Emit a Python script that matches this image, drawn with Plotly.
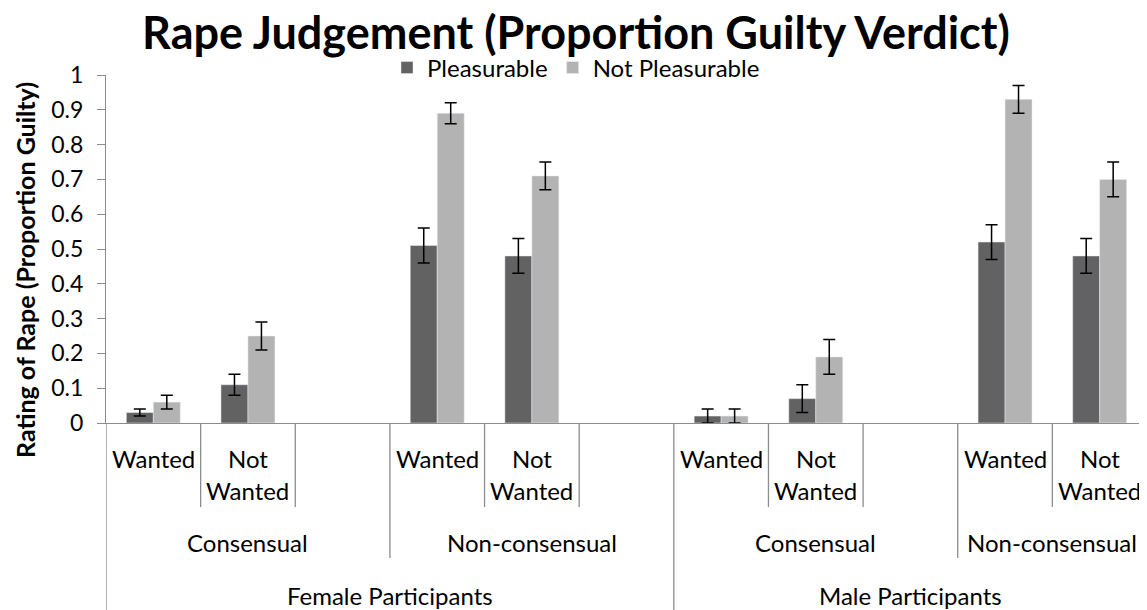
import plotly.graph_objects as go

# ---- data ----
participants = ["Female Participants"] * 6 + ["Male Participants"] * 5
consent = (["Consensual"] * 3 + ["Non-consensual"] * 3 +
           ["Consensual"] * 3 + ["Non-consensual"] * 2)
want = ["Wanted", "Not Wanted", "",
        "Wanted", "Not Wanted", "",
        "Wanted", "Not Wanted", "",
        "Wanted", "Not Wanted"]

pleasurable = [0.03, 0.11, None, 0.51, 0.48, None, 0.02, 0.07, None, 0.52, 0.48]
pleasurable_err = [0.01, 0.03, None, 0.05, 0.05, None, 0.02, 0.04, None, 0.05, 0.05]
not_pleasurable = [0.06, 0.25, None, 0.89, 0.71, None, 0.02, 0.19, None, 0.93, 0.70]
not_pleasurable_err = [0.02, 0.04, None, 0.03, 0.04, None, 0.02, 0.05, None, 0.04, 0.05]

series_names = ["Pleasurable", "Not Pleasurable"]
title_text = "Rape Judgement (Proportion Guilty Verdict)"
y_title = "Rating of Rape (Proportion Guilty)"

# ---- style ----
FONT = "Lato"
DARK = "#626262"
LIGHT = "#b3b3b3"
AXIS = "#8c8c8c"
OFF = 8                      # page body margin
W, H = 1147 - OFF, 610 - OFF
# plot area in reference-window pixels
P_L, P_R, P_T, P_B = 106, 1147, 75, 423
PW, PH = P_R - P_L, P_B - P_T
M_L, M_T = P_L - OFF, P_T - OFF
M_R, M_B = W - (P_R - OFF), H - (P_B - OFF)


def py(px):
    """reference pixel row -> paper y"""
    return (P_B - px) / PH


def pxx(px):
    """reference pixel column -> paper x"""
    return (px - P_L) / PW


xs = list(range(len(want)))

fig = go.Figure()
fig.add_trace(go.Bar(
    x=xs, y=pleasurable, name=series_names[0], marker_color=DARK,
    error_y=dict(type="data", array=pleasurable_err, color="black",
                 thickness=1.5, width=6)))
fig.add_trace(go.Bar(
    x=xs, y=not_pleasurable, name=series_names[1], marker_color=LIGHT,
    error_y=dict(type="data", array=not_pleasurable_err, color="black",
                 thickness=1.5, width=6)))

shapes = []
annotations = []
n = len(want)
LABEL_FONT = dict(family=FONT, size=24, color="black")

# leaf labels
for i, lab in enumerate(want):
    for k, line in enumerate(lab.split(" ") if lab else []):
        annotations.append(dict(x=i, y=py(458 + 32 * k), xref="x", yref="paper",
                                text=line, showarrow=False, yanchor="middle",
                                font=LABEL_FONT))


def groups(labels):
    out = []
    start = 0
    for i in range(1, n + 1):
        if i == n or labels[i] != labels[start]:
            out.append((labels[start], start, i - 1))
            start = i
    return out


level2 = groups([p + "|" + c for p, c in zip(participants, consent)])
level3 = groups(participants)

for key, a, b in level2:
    annotations.append(dict(x=(a + b) / 2, y=py(542), xref="x", yref="paper",
                            text=key.split("|")[1], showarrow=False, yanchor="middle",
                            font=LABEL_FONT))
for key, a, b in level3:
    annotations.append(dict(x=(a + b) / 2, y=py(595), xref="x", yref="paper",
                            text=key, showarrow=False, yanchor="middle",
                            font=LABEL_FONT))

# y-axis title
annotations.append(dict(x=pxx(25), y=py(270), xref="paper", yref="paper",
                        text="<b>" + y_title + "</b>", textangle=-90,
                        showarrow=False, xanchor="center", yanchor="middle",
                        font=dict(family=FONT, size=25, color="black")))

# separators
bounds3 = {a - 0.5 for _, a, _ in level3} | {b + 0.5 for _, _, b in level3}
bounds2 = {a - 0.5 for _, a, _ in level2} | {b + 0.5 for _, _, b in level2}
bounds1 = {i - 0.5 for i in range(n + 1)}
for xb in sorted(bounds1):
    if xb in bounds3:
        yb = py(620)
    elif xb in bounds2:
        yb = py(558)
    else:
        yb = py(507)
    shapes.append(dict(type="line", xref="x", yref="paper", x0=xb, x1=xb,
                       y0=0, y1=yb, line=dict(color=AXIS, width=1.3)))

fig.update_layout(
    width=W, height=H,
    margin=dict(t=M_T, b=M_B, l=M_L, r=M_R, autoexpand=False),
    paper_bgcolor="white", plot_bgcolor="white",
    barmode="group", bargap=0.43, bargroupgap=0,
    font=dict(family=FONT, color="black"),
    title=dict(text="<b>" + title_text + "</b>", x=(576 - OFF) / W, xref="container",
               xanchor="center", y=1 - (33 - OFF) / H, yref="container",
               yanchor="middle",
               font=dict(family=FONT, size=45, color="black")),
    legend=dict(orientation="h", x=pxx(576), xref="paper", xanchor="center",
                y=py(68), yanchor="middle", font=dict(family=FONT, size=24),
                bgcolor="rgba(0,0,0,0)"),
    xaxis=dict(range=[-0.5, n - 0.5], showticklabels=False, ticks="",
               showgrid=False, zeroline=False, showline=True,
               linecolor=AXIS, linewidth=1.3),
    yaxis=dict(range=[0, 1], dtick=0.1, showgrid=False, zeroline=False,
               showline=True, linecolor=AXIS, linewidth=1.3,
               ticks="outside", ticklen=8, tickcolor=AXIS, tickwidth=1.3,
               ticklabelstandoff=9,
               tickfont=dict(family=FONT, size=23, color="black")),
    shapes=shapes, annotations=annotations,
)

fig.write_html("out.html")
